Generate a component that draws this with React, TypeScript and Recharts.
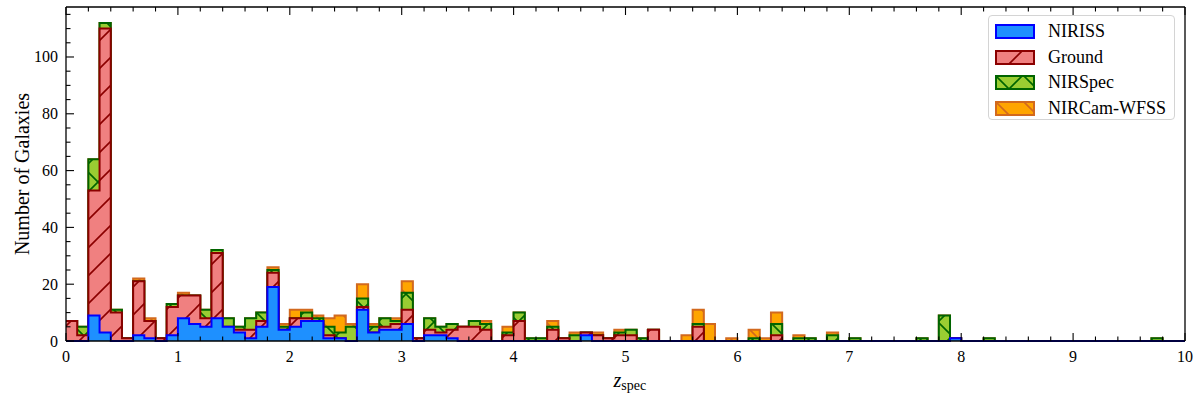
import React from "react";
import { AreaChart, Area, XAxis, YAxis } from "recharts";

// bin left edges, 0.1 wide, 0..10
const binEdges = Array.from({ length: 101 }, (_, i) => i / 10);

// counts per bin (100 bins)
const niriss = [
  0, 0, 9, 3, 0, 0, 2, 1, 0, 2,
  8, 6, 5, 8, 5, 3, 1, 5, 19, 4,
  5, 7, 7, 1, 1, 0, 11, 3, 4, 4,
  6, 0, 2, 2, 1, 0, 0, 0, 0, 0,
  0, 0, 0, 0, 0, 0, 2, 0, 0, 0,
  0, 0, 0, 0, 0, 0, 0, 0, 0, 0,
  0, 0, 0, 0, 0, 0, 0, 0, 0, 0,
  0, 0, 0, 0, 0, 0, 0, 0, 0, 1,
  0, 0, 0, 0, 0, 0, 0, 0, 0, 0,
  0, 0, 0, 0, 0, 0, 0, 0, 0, 0,
];
const ground = [
  7, 2, 44, 107, 10, 1, 19, 6, 1, 10,
  8, 10, 3, 23, 0, 1, 3, 2, 5, 0,
  3, 1, 0, 1, 0, 0, 1, 0, 1, 2,
  5, 1, 2, 1, 3, 5, 5, 4, 0, 2,
  7, 0, 0, 4, 1, 0, 1, 2, 1, 2,
  2, 0, 4, 0, 0, 0, 5, 0, 0, 0,
  0, 0, 0, 2, 0, 0, 0, 0, 0, 0,
  0, 0, 0, 0, 0, 0, 0, 0, 0, 0,
  0, 0, 0, 0, 0, 0, 0, 0, 0, 0,
  0, 0, 0, 0, 0, 0, 0, 0, 0, 0,
];
const nirspec = [
  0, 3, 11, 2, 1, 0, 0, 0, 0, 1,
  0, 0, 3, 1, 3, 1, 4, 3, 1, 1,
  0, 2, 1, 3, 2, 5, 3, 2, 3, 1,
  6, 0, 4, 2, 2, 0, 2, 2, 0, 1,
  3, 1, 1, 1, 0, 2, 0, 0, 0, 1,
  2, 1, 0, 0, 0, 0, 1, 0, 0, 0,
  0, 1, 0, 4, 0, 1, 1, 0, 2, 0,
  1, 0, 0, 0, 0, 0, 1, 0, 9, 0,
  0, 0, 1, 0, 0, 0, 0, 0, 0, 0,
  0, 0, 0, 0, 0, 0, 0, 1, 0, 0,
];
const nircam = [
  0, 0, 0, 0, 0, 0, 1, 1, 0, 0,
  1, 0, 0, 0, 0, 0, 0, 0, 1, 1,
  3, 1, 1, 3, 6, 1, 5, 1, 0, 1,
  4, 0, 0, 0, 0, 0, 0, 1, 0, 2,
  0, 0, 0, 2, 0, 1, 0, 1, 0, 1,
  0, 0, 0, 0, 0, 2, 5, 6, 0, 1,
  0, 3, 1, 4, 0, 1, 0, 0, 1, 0,
  0, 0, 0, 0, 0, 0, 0, 0, 0, 0,
  0, 0, 0, 0, 0, 0, 0, 0, 0, 0,
  0, 0, 0, 0, 0, 0, 0, 0, 0, 0,
];

const xTicks = Array.from({ length: 51 }, (_, i) => i / 5);
const yTicks = Array.from({ length: 24 }, (_, i) => i * 5);

const SERIES = [
  { key: "niriss", label: "NIRISS", fill: "#1E90FF", edge: "#0000FF", hatch: "" },
  { key: "ground", label: "Ground", fill: "#F08080", edge: "#8B0000", hatch: "/" },
  { key: "nirspec", label: "NIRSpec", fill: "#9ACD32", edge: "#006400", hatch: "x" },
  { key: "nircam", label: "NIRCam-WFSS", fill: "#FFA500", edge: "#D2691E", hatch: "\\" },
];

// cumulative tops so the lower layers are painted last (like matplotlib's stacked hist)
const rows = binEdges.map((z, i) => {
  const a = niriss[i] ?? 0;
  const b = a + (ground[i] ?? 0);
  const c = b + (nirspec[i] ?? 0);
  const d = c + (nircam[i] ?? 0);
  return { z, niriss: a, ground: b, nirspec: c, nircam: d };
});

const FONT = "'Liberation Serif', 'DejaVu Serif', serif";
const TICK_STROKE = { stroke: "#000", strokeWidth: 1.1 };

function hatchPath(h: string, s: number) {
  const fwd = `M0,${s} L${s},0 M-3,3 L3,-3 M${s - 3},${s + 3} L${s + 3},${s - 3}`;
  const back = `M0,0 L${s},${s} M-3,${s - 3} L3,${s + 3} M${s - 3},-3 L${s + 3},3`;
  if (h === "/") return fwd;
  if (h === "\\") return back;
  if (h === "x") return fwd + " " + back;
  return "";
}

function HatchDefs({ prefix }: { prefix: string }) {
  const s = 28;
  return (
    <defs>
      {SERIES.map((d) => (
        <pattern key={d.key} id={`${prefix}-${d.key}`} patternUnits="userSpaceOnUse" width={s} height={s}>
          <rect width={s} height={s} fill={d.fill} />
          {d.hatch && <path d={hatchPath(d.hatch, s)} stroke={d.edge} strokeWidth={1.6} fill="none" />}
        </pattern>
      ))}
    </defs>
  );
}

function BottomTick({ x, y, payload }: any) {
  const major = Number.isInteger(payload.value);
  return (
    <g>
      <line x1={x} x2={x} y1={y} y2={y - (major ? 8 : 4.5)} {...TICK_STROKE} />
      {major && (
        <text x={x} y={y + 21} textAnchor="middle" fontSize={16} fontFamily={FONT} fill="#000">
          {payload.value}
        </text>
      )}
    </g>
  );
}

function TopTick({ x, y, payload }: any) {
  const major = Number.isInteger(payload.value);
  return <line x1={x} x2={x} y1={y} y2={y + (major ? 8 : 4.5)} {...TICK_STROKE} />;
}

function LeftTick({ x, y, payload }: any) {
  const major = payload.value % 20 === 0;
  return (
    <g>
      <line x1={x} x2={x + (major ? 8 : 4.5)} y1={y} y2={y} {...TICK_STROKE} />
      {major && (
        <text x={x - 8} y={y + 5.5} textAnchor="end" fontSize={16} fontFamily={FONT} fill="#000">
          {payload.value}
        </text>
      )}
    </g>
  );
}

function RightTick({ x, y, payload }: any) {
  const major = payload.value % 20 === 0;
  return <line x1={x} x2={x - (major ? 8 : 4.5)} y1={y} y2={y} {...TICK_STROKE} />;
}

function HistLegend() {
  return (
    <div
      style={{
        position: "absolute",
        left: 988,
        top: 15,
        width: 185,
        height: 103,
        border: "1px solid #d4d4d4",
        borderRadius: 4,
        background: "rgba(255,255,255,0.85)",
        fontFamily: FONT,
        fontSize: 18,
      }}
    >
      {SERIES.map((d, i) => (
        <div key={d.key} style={{ position: "absolute", left: 6, top: 8 + i * 25.5, display: "flex", alignItems: "center", height: 15 }}>
          <svg width={40} height={15} style={{ display: "block" }}>
            <HatchDefs prefix={`lg${i}`} />
            <rect x={1} y={1} width={38} height={13} fill={`url(#lg${i}-${d.key})`} stroke={d.edge} strokeWidth={2} />
          </svg>
          <span style={{ marginLeft: 13, lineHeight: "15px", whiteSpace: "nowrap" }}>{d.label}</span>
        </div>
      ))}
    </div>
  );
}

export default function App() {
  return (
    <div style={{ position: "absolute", left: 0, top: 0, width: 1200, height: 397, background: "#fff" }}>
      <AreaChart width={1200} height={397} data={rows} margin={{ top: 2, right: 10, left: 16, bottom: 16 }}>
        <HatchDefs prefix="hist" />
        <XAxis
          dataKey="z"
          type="number"
          domain={[0, 10]}
          ticks={xTicks}
          interval={0}
          height={40}
          tickSize={0}
          tickMargin={0}
          tickLine={false}
          axisLine={{ stroke: "#000", strokeWidth: 1.3 }}
          tick={<BottomTick />}
          label={({ viewBox }: any) => (
            <text x={viewBox.x + viewBox.width / 2 - 12} y={viewBox.y + 46} fontFamily={FONT} fill="#000">
              <tspan fontSize={20} fontStyle="italic">z</tspan>
              <tspan fontSize={14} dy={3}>spec</tspan>
            </text>
          )}
        />
        <XAxis
          xAxisId="top"
          orientation="top"
          dataKey="z"
          type="number"
          domain={[0, 10]}
          ticks={xTicks}
          interval={0}
          height={5}
          tickSize={0}
          tickMargin={0}
          tickLine={false}
          axisLine={{ stroke: "#000", strokeWidth: 1.3 }}
          tick={<TopTick />}
        />
        <YAxis
          type="number"
          domain={[0, 117.6]}
          ticks={yTicks}
          interval={0}
          width={50}
          tickSize={0}
          tickMargin={0}
          tickLine={false}
          axisLine={{ stroke: "#000", strokeWidth: 1.3 }}
          tick={<LeftTick />}
          label={({ viewBox }: any) => (
            <text
              x={viewBox.x + 6}
              y={viewBox.y + viewBox.height / 2}
              transform={`rotate(-90, ${viewBox.x + 6}, ${viewBox.y + viewBox.height / 2})`}
              textAnchor="middle"
              dominantBaseline="central"
              fontSize={20}
              fontFamily={FONT}
              fill="#000"
            >
              Number of Galaxies
            </text>
          )}
        />
        <YAxis
          yAxisId="right"
          orientation="right"
          type="number"
          domain={[0, 117.6]}
          ticks={yTicks}
          interval={0}
          width={5}
          tickSize={0}
          tickMargin={0}
          tickLine={false}
          axisLine={{ stroke: "#000", strokeWidth: 1.3 }}
          tick={<RightTick />}
        />
        {[...SERIES].reverse().map((d) => (
          <Area
            key={d.key}
            type="stepAfter"
            dataKey={d.key}
            stroke={d.edge}
            strokeWidth={2}
            fill={`url(#hist-${d.key})`}
            fillOpacity={1}
            dot={false}
            activeDot={false}
            isAnimationActive={false}
          />
        ))}
      </AreaChart>
      <HistLegend />
    </div>
  );
}
